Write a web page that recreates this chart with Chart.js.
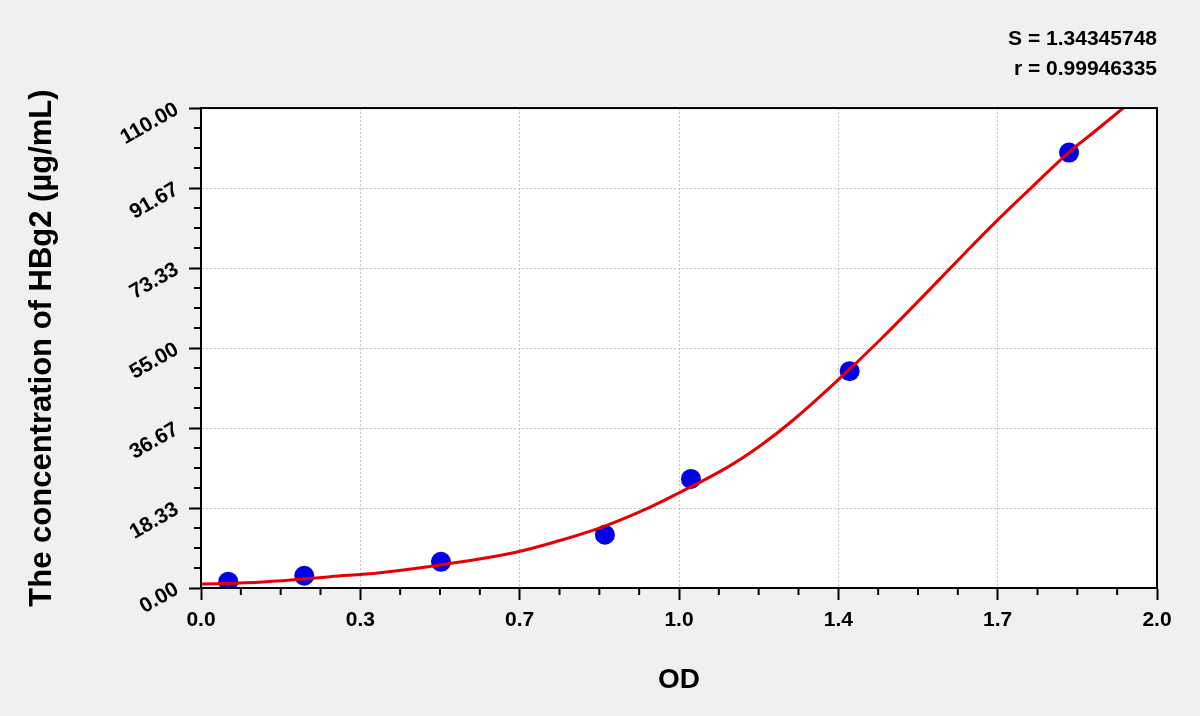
<!DOCTYPE html>
<html>
<head>
<meta charset="utf-8">
<script src="https://cdn.jsdelivr.net/npm/chart.js@4"></script>
<style>
html, body { margin: 0; padding: 0; background: #f0f0f0; }
#wrap { width: 1200px; height: 716px; }
</style>
</head>
<body>
<div id="wrap"><canvas id="stdCurve" width="1200" height="716"></canvas></div>
<script>
// standards (OD vs concentration)
const odValues = [0.057, 0.216, 0.502, 0.845, 1.025, 1.357, 1.816];
const concValues = [1.45, 2.8, 6.0, 12.2, 25.0, 49.7, 99.8];

// fitted curve
const fitOd = [0.0, 0.13, 0.27, 0.375, 0.514, 0.654, 0.751, 0.845, 0.933, 1.0, 1.1, 1.17, 1.239, 1.33, 1.421, 1.511, 1.602, 1.658, 1.728, 1.815, 1.867, 1.937];
const fitConc = [0.9, 1.4, 2.6, 3.5, 5.5, 8.1, 10.9, 14.2, 18.2, 21.8, 27.6, 32.6, 38.5, 47.4, 56.9, 66.9, 77.2, 83.4, 90.8, 99.8, 104.4, 110.7];

const xTickLabels = ['0.0', '0.3', '0.7', '1.0', '1.4', '1.7', '2.0'];
const yTickLabels = ['0.00', '18.33', '36.67', '55.00', '73.33', '91.67', '110.00'];
const fitStats = ['S = 1.34345748', 'r = 0.99946335'];

const X_MAX = 2, Y_MAX = 110;
const FONT = 'Liberation Sans, Arial, sans-serif';

const plotBox = {
    id: 'plotBox',
    beforeDraw(chart) {
        const {ctx, chartArea: a} = chart;
        ctx.save();
        ctx.fillStyle = '#fff';
        ctx.fillRect(a.left, a.top, a.right - a.left, a.bottom - a.top);
        ctx.restore();
    },
    afterDraw(chart) {
        const {ctx, chartArea: a, scales} = chart;
        ctx.save();
        ctx.setLineDash([]);
        ctx.strokeStyle = '#000';
        ctx.lineWidth = 2;
        ctx.strokeRect(a.left, a.top, a.right - a.left, a.bottom - a.top);
        // minor ticks, 3 between each labelled tick
        ctx.beginPath();
        for (let i = 1; i < 24; i++) {
            if (i % 4 === 0) continue;
            const px = scales.x.getPixelForValue(i * X_MAX / 24);
            ctx.moveTo(px, a.bottom);
            ctx.lineTo(px, a.bottom + 7);
            const py = scales.y.getPixelForValue(i * Y_MAX / 24);
            ctx.moveTo(a.left, py);
            ctx.lineTo(a.left - 7, py);
        }
        ctx.stroke();
        ctx.restore();
    }
};

const tickFont = {family: FONT, size: 21, weight: 'bold'};
const gridOpts = {color: '#c4c4c4', lineWidth: 1, tickColor: '#000', tickWidth: 2, tickLength: 12, tickBorderDash: []};
const borderOpts = {color: '#000', width: 2, dash: [2, 2]};

new Chart(document.getElementById('stdCurve'), {
    type: 'scatter',
    data: {
        datasets: [
            {
                label: 'fit',
                data: fitOd.map((x, i) => ({x: x, y: fitConc[i]})),
                showLine: true,
                borderColor: '#e60000',
                borderWidth: 3,
                pointRadius: 0,
                tension: 0.4,
                order: 0
            },
            {
                label: 'standards',
                data: odValues.map((x, i) => ({x: x, y: concValues[i]})),
                backgroundColor: '#0000e6',
                borderColor: '#0000e6',
                borderWidth: 0,
                pointRadius: 10,
                order: 1
            }
        ]
    },
    options: {
        responsive: false,
        animation: false,
        layout: {padding: {top: 24, right: 43, bottom: 0, left: 0}},
        plugins: {
            legend: {display: false},
            tooltip: {enabled: false},
            title: {
                display: true,
                text: fitStats,
                align: 'end',
                color: '#000',
                font: {family: FONT, size: 21, weight: 'bold', lineHeight: 1.43},
                padding: {top: 0, bottom: 24}
            }
        },
        scales: {
            x: {
                type: 'linear',
                min: 0,
                max: X_MAX,
                afterBuildTicks: s => { s.ticks = xTickLabels.map((_, i) => ({value: i * X_MAX / 6})); },
                afterFit: s => { s.height = 128; },
                ticks: {
                    autoSkip: false,
                    maxRotation: 0,
                    padding: 8,
                    color: '#000',
                    font: tickFont,
                    callback: (v, i) => xTickLabels[i]
                },
                grid: gridOpts,
                border: borderOpts,
                title: {display: true, text: 'OD', color: '#000', font: {family: FONT, size: 28, weight: 'bold'}, padding: {top: 0, bottom: 19}}
            },
            y: {
                type: 'linear',
                min: 0,
                max: Y_MAX,
                afterBuildTicks: s => { s.ticks = yTickLabels.map((_, i) => ({value: i * Y_MAX / 6})); },
                afterFit: s => { s.width = 201; },
                ticks: {
                    autoSkip: false,
                    minRotation: 30,
                    maxRotation: 30,
                    padding: 12,
                    color: '#000',
                    font: tickFont,
                    callback: (v, i) => yTickLabels[i]
                },
                grid: gridOpts,
                border: borderOpts,
                title: {display: true, text: 'The concentration of HBg2 (µg/mL)', color: '#000', font: {family: FONT, size: 31, weight: 'bold'}, padding: {top: 24, bottom: 0}}
            }
        }
    },
    plugins: [plotBox]
});
</script>
</body>
</html>
